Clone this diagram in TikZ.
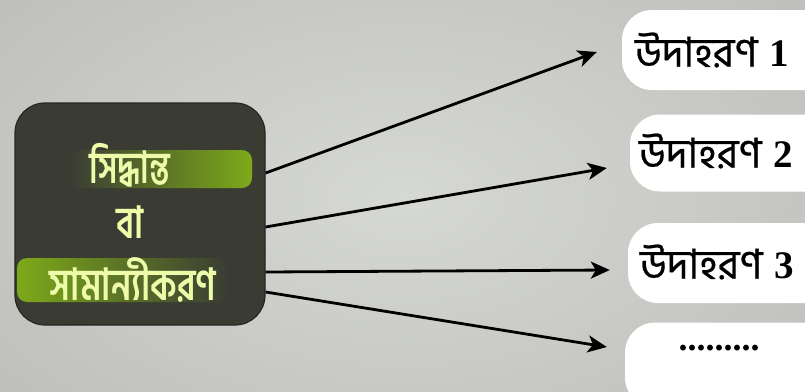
\documentclass[tikz,border=0pt]{standalone}
\usepackage{fontspec}
\usepackage{graphicx}
\setmainfont{Liberation Serif}
\newfontfamily\bn[Script=Bengali]{Hind Siliguri}
\newfontfamily\bnmed[Script=Bengali,FakeBold=0.6]{Hind Siliguri}
\usetikzlibrary{arrows.meta}
\definecolor{bg}{RGB}{192,193,188}
\definecolor{bglight}{RGB}{214,216,212}
\definecolor{darkbox}{RGB}{58,60,52}
\definecolor{hl}{RGB}{125,170,25}
\definecolor{txtl}{RGB}{238,252,170}
\newcommand{\dig}[1]{\hspace{12pt}{\rmfamily\bfseries\fontsize{39}{42}\selectfont #1}}
\tikzset{
  srcbox/.style={fill=darkbox, draw=black!85, line width=1.2pt, rounded corners=30pt, minimum width=250pt, minimum height=222pt},
  exbox/.style={fill=white, rounded corners=30pt, minimum width=220pt, minimum height=80pt},
  srctext/.style={text=txtl, font=\bn\bfseries\fontsize{34}{38}\selectfont, inner sep=0pt},
  extext/.style={text=black, font=\bnmed\fontsize{41}{46}\selectfont, inner sep=0pt},
  arr/.style={line width=2.8pt, -{Stealth[length=19pt,width=17pt,inset=5pt]}},
}
\begin{document}
\begin{tikzpicture}[x=1pt,y=-1pt]
\useasboundingbox (0,0) rectangle (805,391);
\clip (0,0) rectangle (805,391);
\shade[inner color=bglight, outer color=bg] (-100,-100) rectangle (905,491);
% source box
\node[srcbox] (src) at (140,214) {};
\shade[left color=darkbox, right color=hl, rounded corners=10pt] (70,150) rectangle (252,188);
\shade[left color=hl, right color=darkbox, rounded corners=10pt] (17,258) rectangle (228,302);
\node[srctext] (w1) at (130,165) {\scalebox{0.95}[1.3]{সিদ্ধান্ত}};
\node[srctext] (w2) at (130,222) {\scalebox{1}[1.3]{বা}};
\node[srctext] (w3) at (133,280) {\scalebox{1.02}[1.3]{সামান্যীকরণ}};
% example boxes
\node[exbox] (e1) at (732,50) {};
\node[exbox, minimum height=77pt] (e2) at (740,153) {};
\node[exbox] (e3) at (738,263) {};
\node[exbox, minimum height=85pt] (e4) at (735,365) {};
\node[extext] (l1) at (712,50) {উদাহরণ\dig{1}};
\node[extext] (l2) at (716,151) {উদাহরণ\dig{2}};
\node[extext] (l3) at (717,262) {উদাহরণ\dig{3}};
\node[font=\bfseries\fontsize{36}{38}\selectfont, inner sep=0pt] (l4) at (719,348) {.........};
% arrows
\draw[arr] ([yshift=41pt]src.east) -- ([xshift=-25pt,yshift=-2pt]e1.west);
\draw[arr] ([yshift=-13pt]src.east) -- ([xshift=-23pt,yshift=-15pt]e2.west);
\draw[arr] ([yshift=-58pt]src.east) -- ([xshift=-18pt,yshift=-7pt]e3.west);
\draw[arr] ([yshift=-78pt]src.east) -- ([xshift=-18pt,yshift=18pt]e4.west);
\end{tikzpicture}
\end{document}
